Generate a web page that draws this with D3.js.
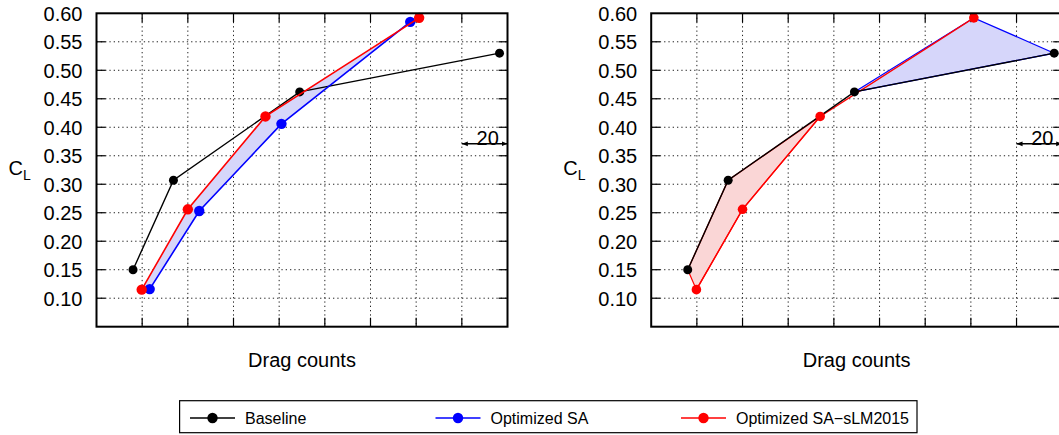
<!DOCTYPE html>
<html><head><meta charset="utf-8">
<script src="https://cdn.jsdelivr.net/npm/d3@7"></script>
<style>
html,body{margin:0;padding:0;background:#fff;}
svg{display:block;font-family:"Liberation Sans",Arial,Helvetica,sans-serif;}
</style></head>
<body>
<script>
// ---- data (drag counts in arbitrary offset units; one grid step = 20 counts) ----
const baselineX = [116.0, 133.7, 189.0, 276.5];
const baselineCL = [0.150, 0.307, 0.462, 0.530];
const saX = [123.3, 145.0, 181.0, 237.4];
const saCL = [0.116, 0.253, 0.406, 0.585];
const slmX = [119.8, 140.0, 174.0, 241.3];
const slmCL = [0.115, 0.256, 0.419, 0.592];
const xTicks = [100, 120, 140, 160, 180, 200, 220, 240, 260, 280];
const yTicks = [0.10, 0.15, 0.20, 0.25, 0.30, 0.35, 0.40, 0.45, 0.50, 0.55, 0.60];
const seriesNames = ["Baseline", "Optimized SA", "Optimized SA\u2212sLM2015"];
const seriesColors = ["#000000", "#0000ff", "#ff0000"];
const annotValue = "20";

const W = 1059, H = 435;
const svg = d3.select("body").append("svg").attr("width", W).attr("height", H);
const defs = svg.append("defs");
["l", "r"].forEach(k => {
  defs.append("marker").attr("id", "arr" + k)
    .attr("viewBox", "0 0 10 10").attr("refX", k === "l" ? 0 : 10).attr("refY", 5)
    .attr("markerWidth", 6).attr("markerHeight", 6).attr("markerUnits", "userSpaceOnUse")
    .attr("orient", "auto")
    .append("path").attr("d", k === "l" ? "M10,1 L0,5 L10,9 Z" : "M0,1 L10,5 L0,9 Z").attr("fill", "#000");
});

const plotTop = 13.3, plotBottom = 326.7;
const y = d3.scaleLinear().domain([0.05, 0.60]).range([plotBottom, plotTop]);
const pts = (xs, ys) => xs.map((v, i) => [v, ys[i]]);
const B = pts(baselineX, baselineCL), S = pts(saX, saCL), R = pts(slmX, slmCL);

function panel(x0, x1, kind) {
  const x = d3.scaleLinear().domain([xTicks[0], xTicks[xTicks.length - 1]]).range([x0, x1]);
  const g = svg.append("g");
  const line = d3.line().x(d => x(d[0])).y(d => y(d[1]));

  // grid
  const grid = g.append("g").attr("stroke", "#222").attr("stroke-width", 1).attr("stroke-dasharray", "1.3,3");
  xTicks.slice(1, -1).forEach(t => grid.append("line").attr("x1", x(t)).attr("x2", x(t)).attr("y1", plotTop).attr("y2", plotBottom));
  yTicks.slice(0, -1).forEach(t => grid.append("line").attr("x1", x0).attr("x2", x1).attr("y1", y(t)).attr("y2", y(t)));

  // fills
  if (kind === "left") {
    g.append("path").attr("d", line(R.concat(S.slice().reverse())) + "Z")
      .attr("fill", "#d6d6fa").attr("stroke", "none");
  } else {
    g.append("path").attr("d", line([B[0], B[1], R[2], R[1], R[0]]) + "Z")
      .attr("fill", "#fad6d6").attr("stroke", "#ff0000").attr("stroke-width", 1.2);
    g.append("path").attr("d", line([B[2], R[3], B[3]]) + "Z")
      .attr("fill", "#d6d6fa").attr("stroke", "#0000ff").attr("stroke-width", 1.2);
  }

  // ticks (mirrored, inward)
  const tk = g.append("g").attr("stroke", "#000").attr("stroke-width", 1.2);
  const tl = 9;
  xTicks.slice(1, -1).forEach(t => {
    tk.append("line").attr("x1", x(t)).attr("x2", x(t)).attr("y1", plotBottom).attr("y2", plotBottom - tl);
    tk.append("line").attr("x1", x(t)).attr("x2", x(t)).attr("y1", plotTop).attr("y2", plotTop + tl);
  });
  yTicks.slice(0, -1).forEach(t => {
    tk.append("line").attr("x1", x0).attr("x2", x0 + tl).attr("y1", y(t)).attr("y2", y(t));
    tk.append("line").attr("x1", x1).attr("x2", x1 - tl).attr("y1", y(t)).attr("y2", y(t));
  });

  // series
  const drawSeries = (data, color, lw, r) => {
    g.append("path").attr("d", line(data)).attr("fill", "none").attr("stroke", color).attr("stroke-width", lw);
    return () => g.selectAll(null).data(data).enter().append("circle")
      .attr("cx", d => x(d[0])).attr("cy", d => y(d[1])).attr("r", r).attr("fill", color);
  };
  if (kind === "left") {
    drawSeries(B, seriesColors[0], 1.4, 4.5)();
    drawSeries(S, seriesColors[1], 1.6, 5.2)();
    drawSeries(R, seriesColors[2], 1.6, 5.2)();
  } else {
    const mr = drawSeries(R, seriesColors[2], 1.4, 4.8);
    const mb = drawSeries(B, seriesColors[0], 1.4, 4.5);
    mr(); mb();
  }

  // frame
  g.append("rect").attr("x", x0).attr("y", plotTop).attr("width", x1 - x0).attr("height", plotBottom - plotTop)
    .attr("fill", "none").attr("stroke", "#000").attr("stroke-width", 2);

  // y tick labels
  const ya = d3.axisLeft(y).tickValues(yTicks).tickFormat(d3.format(".2f")).tickSize(0).tickPadding(14);
  const yg = g.append("g").attr("transform", `translate(${x0},0)`).call(ya);
  yg.select(".domain").remove();
  yg.selectAll("text").attr("font-size", 20).attr("fill", "#000")
    .attr("font-family", "'Liberation Sans',Arial,sans-serif").attr("dy", "0.36em");

  // axis titles
  const cl = g.append("text").attr("x", x0 - 88).attr("y", 175).attr("font-size", 20).attr("fill", "#000");
  cl.append("tspan").text("C");
  cl.append("tspan").attr("font-size", 14).attr("dy", 5).text("L");
  g.append("text").attr("x", (x0 + x1) / 2).attr("y", 366.5).attr("text-anchor", "middle")
    .attr("font-size", 20).attr("fill", "#000").text("Drag counts");

  // scale annotation
  const ay = y(0.371);
  g.append("line").attr("x1", x(260)).attr("x2", x(280)).attr("y1", ay).attr("y2", ay)
    .attr("stroke", "#000").attr("stroke-width", 1.5)
    .attr("marker-start", "url(#arrl)").attr("marker-end", "url(#arrr)");
  g.append("text").attr("x", x(270) + 3).attr("y", ay + 1).attr("text-anchor", "middle")
    .attr("font-size", 20).attr("fill", "#000").text(annotValue);
}

panel(96.5, 507.5, "left");
panel(651.2, 1062.2, "right");

// legend
const lg = svg.append("g");
lg.append("rect").attr("x", 179.6).attr("y", 400.7).attr("width", 737.4).attr("height", 32)
  .attr("fill", "#fff").attr("stroke", "#000").attr("stroke-width", 1.2);
const lgX = [190, 435.5, 681];
seriesNames.forEach((n, i) => {
  const e = lg.append("g").attr("transform", `translate(${lgX[i]},418)`);
  e.append("line").attr("x1", 0).attr("x2", 45).attr("stroke", seriesColors[i]).attr("stroke-width", 1.5);
  e.append("circle").attr("cx", 22.5).attr("r", 5.2).attr("fill", seriesColors[i]);
  e.append("text").attr("x", 55).attr("dy", "0.35em").attr("font-size", 16).attr("fill", "#000").text(n);
});
</script>
</body></html>
